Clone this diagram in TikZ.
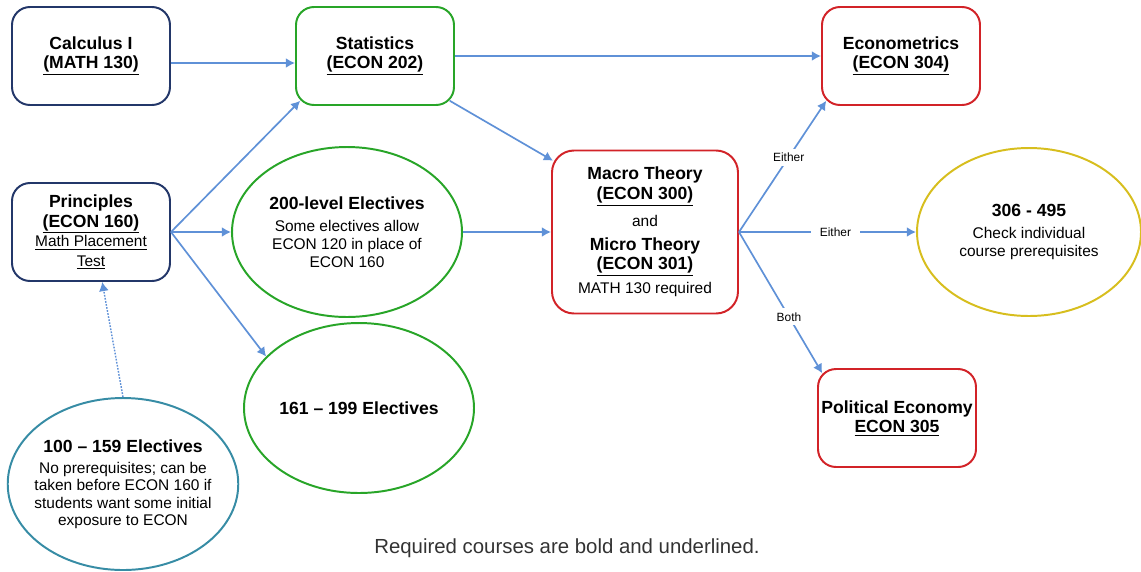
\documentclass[tikz,border=0pt]{standalone}
\usepackage{fontspec}
\setmainfont{Liberation Sans}
\usetikzlibrary{shapes.geometric,arrows.meta}

\definecolor{navy}{RGB}{35,55,105}
\definecolor{econgreen}{RGB}{40,165,40}
\definecolor{econred}{RGB}{210,35,40}
\definecolor{econyellow}{RGB}{215,190,30}
\definecolor{econteal}{RGB}{55,140,165}
\definecolor{arrowblue}{RGB}{95,145,215}

\newcommand{\titlefont}{\fontsize{12.5}{15}\selectfont\bfseries}
\newcommand{\req}[1]{\underline{#1}}

\begin{document}
\begin{tikzpicture}[
                node distance=4.4cm,
                font=\fontsize{11}{14}\selectfont,
                coursebox/.style={
                    rectangle,
                    draw,
                    align=center,
                    line width=1.4pt,
                    rounded corners=0.45cm,
                    minimum width=3.95cm,
                    minimum height=2.45cm,
                    inner sep=2pt
                },
                elective/.style={
                    ellipse,
                    draw,
                    align=center,
                    line width=1.4pt,
                    minimum width=5.75cm,
                    minimum height=4.25cm,
                    inner sep=0pt,
                    font=\fontsize{11}{12.8}\selectfont
                },
                line/.style={
                    draw=arrowblue,
                    line width=1.2pt,
                    -{Latex[length=6.5pt,width=7pt]}
                },
                lbl/.style={
                    fill=white,
                    inner xsep=6pt,
                    inner ysep=3pt,
                    font=\fontsize{8.5}{10}\selectfont
                }]

                \useasboundingbox (-2.275,1.4) rectangle (26.25,-12.875);

                \node [coursebox, draw=navy] (calc) {{\titlefont Calculus I}\\{\titlefont\req{(MATH 130)}}};
                \node [coursebox, draw=navy, below of=calc] (principles) {{\titlefont Principles}\\{\titlefont\req{(ECON 160)}}\\\req{Math Placement}\\\req{Test}};

                \node [elective, draw=econgreen, right of=principles, xshift=2cm] (elec200) {{\titlefont 200-level Electives}\\[3pt]Some electives allow\\ECON 120 in place of\\ECON 160};
                \node [coursebox, draw=econgreen, above of=elec200, xshift=0.7cm] (stats) {{\titlefont Statistics}\\{\titlefont\req{(ECON 202)}}};
                \node [elective, draw=econgreen, below of=elec200, xshift=0.3cm] (elec161) {{\titlefont 161 -- 199 Electives}};

                \node [elective, draw=econteal, below of=principles, xshift=0.8cm, yshift=-1.9cm, minimum height=4.3cm, inner xsep=-5pt, font=\fontsize{11}{12.2}\selectfont] (elec100) {{\titlefont 100 -- 159 Electives}\\[3pt]No prerequisites; can be\\taken before ECON 160 if\\students want some initial\\exposure to ECON};

                \node [coursebox, draw=econred, right of=elec200, xshift=3.05cm, minimum width=4.65cm, minimum height=4.075cm, rounded corners=0.55cm] (macro) {{\titlefont Macro Theory}\\{\titlefont\req{(ECON 300)}}\\[5pt]and\\[3pt]{\titlefont Micro Theory}\\{\titlefont\req{(ECON 301)}}\\[3pt]MATH 130 required};

                \node [coursebox, draw=econred, above of=macro, xshift=6.4cm] (econ304) {{\titlefont Econometrics}\\{\titlefont\req{(ECON 304)}}};
                \node [elective, draw=econyellow, right of=macro, xshift=5.2cm, minimum width=5.6cm, minimum height=4.2cm] (upper) {{\titlefont 306 - 495}\\[3pt]Check individual\\course prerequisites};
                \node [coursebox, draw=econred, below of=macro, xshift=6.3cm, yshift=-0.25cm] (polecon) {{\titlefont Political Economy}\\{\titlefont\req{ECON 305}}};

                \node [below of=elec161, xshift=5.2cm, yshift=0.9cm, font=\fontsize{14.5}{17}\selectfont, text=black!80] (note) {Required courses are bold and underlined.};

                \draw [line] ([yshift=-0.175cm]calc.east) -- ([yshift=-0.175cm]calc.east -| stats.west);
                \draw [line] (stats.east) -- (stats.east -| econ304.west);

                \draw [line] (principles.east) -- ([shift={(0.13,0.13)}]stats.south west);
                \draw [line] (principles.east) -- (principles.east -| elec200.west);
                \draw [line] (principles.east) -- (elec161.151);

                \draw [line] ([shift={(-0.13,0.13)}]stats.south east) -- ([shift={(0.05,-0.28)}]macro.north west);
                \draw [line] (elec200.east) -- (elec200.east -| macro.west);

                \draw [line] (macro.east) -- node [lbl, pos=.57] {Either} ([shift={(0.13,0.13)}]econ304.south west);
                \draw [line] (macro.east) -- node [lbl, pos=.545] {Either} (upper.west);
                \draw [line] (macro.east) -- node [lbl, pos=.6] {Both} ([shift={(0.13,-0.13)}]polecon.north west);

                \draw [line, densely dotted, line width=1pt] (elec100.north) -- ([xshift=0.28cm]principles.south);

            \end{tikzpicture}
\end{document}
